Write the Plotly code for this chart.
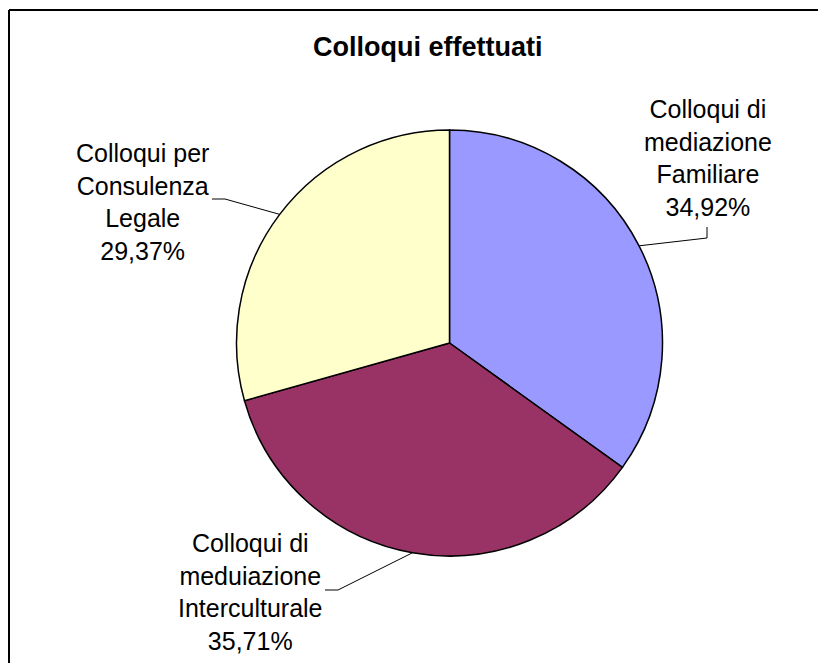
import math
import plotly.graph_objects as go

# ---- data ----
labels = ["Colloqui di<br>mediazione<br>Familiare",
          "Colloqui di<br>meduiazione<br>Interculturale",
          "Colloqui per<br>Consulenza<br>Legale"]
values = [44, 45, 37]
pct_text = ["34,92%", "35,71%", "29,37%"]
colors = ["#9999FF", "#993366", "#FFFFCC"]
title = "Colloqui effettuati"

# ---- layout constants (screen pixels) ----
OFF = 8  # default page body margin
W, H = 826 - 2 * OFF, 671 - 2 * OFF  # figure fits the window without scrollbars
CX, CY, R = 449.5, 343.0, 213.0
# label block centres and leader elbow points (pixels)
label_pos = [(708, 158), (250, 592), (142, 202)]
leader_start = [(707, 227), (325, 590), (212, 199)]
leader_elbow = [(707, 238), (338, 590), (225, 199)]


def px(x):
    return (x - OFF) / W


def py(y):
    return 1 - (y - OFF) / H


fig = go.Figure()
fig.add_trace(go.Pie(
    labels=[l.replace("<br>", " ") for l in labels],
    values=values,
    sort=False,
    direction="clockwise",
    rotation=0,
    marker=dict(colors=colors, line=dict(color="black", width=1.5)),
    textinfo="none",
    hoverinfo="none",
    showlegend=False,
    domain=dict(x=[px(CX - R), px(CX + R)], y=[py(CY + R), py(CY - R)]),
))

shapes = []
annotations = []
total = sum(values)
cum = 0
for i, v in enumerate(values):
    mid = (cum + v / 2) / total * 2 * math.pi
    cum += v
    ex = CX + R * math.sin(mid)
    ey = CY - R * math.cos(mid)
    sx, sy = leader_start[i]
    bx, by = leader_elbow[i]
    shapes.append(dict(
        type="path", xref="paper", yref="paper",
        path=f"M {px(sx)} {py(sy)} L {px(bx)} {py(by)} L {px(ex)} {py(ey)}",
        line=dict(color="black", width=1),
    ))
    lx, ly = label_pos[i]
    annotations.append(dict(
        x=px(lx), y=py(ly), xref="paper", yref="paper",
        text=labels[i] + "<br>" + pct_text[i],
        showarrow=False, align="center",
        xanchor="center", yanchor="middle",
        font=dict(family="Liberation Sans, Arial, sans-serif", size=25, color="black"),
    ))

# chart border: only top and left edges are visible (rest is cropped)
shapes.append(dict(type="line", xref="paper", yref="paper",
                   x0=px(9), y0=py(10), x1=px(826), y1=py(10),
                   line=dict(color="black", width=2)))
shapes.append(dict(type="line", xref="paper", yref="paper",
                   x0=px(9), y0=py(10), x1=px(9), y1=py(671),
                   line=dict(color="black", width=2)))

annotations.append(dict(
    x=px(427), y=py(47), xref="paper", yref="paper",
    text="<b>" + title + "</b>", showarrow=False,
    xanchor="center", yanchor="middle",
    font=dict(family="Liberation Sans, Arial, sans-serif", size=27, color="black"),
))

fig.update_layout(
    width=W, height=H,
    margin=dict(l=0, r=0, t=0, b=0),
    paper_bgcolor="white", plot_bgcolor="white",
    shapes=shapes, annotations=annotations,
)

fig.write_html("out.html")
